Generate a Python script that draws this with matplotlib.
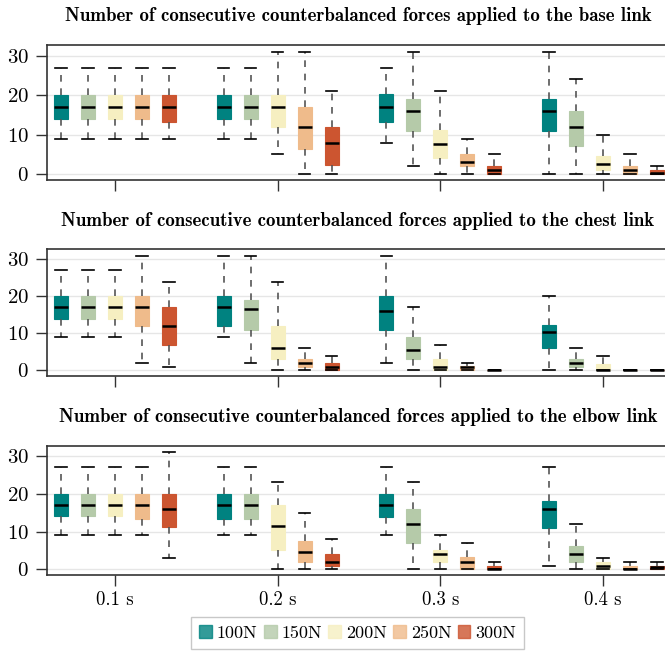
import numpy as np
import matplotlib
matplotlib.use('Agg')
import matplotlib.pyplot as plt
from matplotlib.patches import Patch

forces = ['100N', '150N', '200N', '250N', '300N']
times = ['0.1 s', '0.2 s', '0.3 s', '0.4 s']
colors = ['#008280', '#b5caa9', '#f6efc1', '#efbb8b', '#cc5530']
links = ['base', 'chest', 'elbow']

# rows = force, cols = time step
base_lo = [[9, 9, 8, 0], [9, 9, 2, 0], [9, 5, 0, 0], [9, 0, 0, 0], [9, 0, 0, 0]]
base_q1 = [[14, 14, 13.3, 11], [14, 14, 11, 7.2], [14, 12, 4, 1], [14, 6.3, 2, 0], [13.2, 2.2, 0, 0]]
base_med = [[17, 17, 17, 16], [17, 17, 16, 12], [17, 17, 7.5, 2.5], [17, 12, 3, 1], [17, 8, 1, 0.3]]
base_q3 = [[20, 20, 20.2, 19], [20, 20, 19, 16], [20, 20, 11.2, 4.7], [20, 17, 5, 2], [20, 12, 2, 1]]
base_hi = [[27, 27, 27, 31], [27, 27, 31, 24], [27, 31, 21, 10], [27, 31, 9, 5], [27, 21, 5, 2]]

chest_lo = [[9, 9, 2, 0], [9, 2, 0, 0], [9, 0, 0, 0], [2, 0, 0, 0], [1, 0, 0, 0]]
chest_q1 = [[14, 12, 11, 6], [14, 11, 3, 1], [14, 3, 0, 0], [12, 1, 0, 0], [7, 0, 0, 0]]
chest_med = [[17, 17, 16, 10.5], [17, 16.5, 5.5, 2], [17, 6, 1, 0], [17, 2, 1, 0], [12, 1, 0, 0]]
chest_q3 = [[20, 20, 20, 12.2], [20, 19, 9, 3.1], [20, 12, 3.2, 1.8], [20, 3, 1.2, 0], [17, 2, 0, 0]]
chest_hi = [[27, 31, 31, 20], [27, 31, 17, 6], [27, 24, 7, 4], [31, 6, 2, 0], [24, 4, 0, 0]]

elbow_lo = [[9, 9, 9, 1], [9, 9, 0, 0], [9, 0, 0, 0], [9, 0, 0, 0], [3, 0, 0, 0]]
elbow_q1 = [[14, 13.2, 13.9, 10.8], [14, 13.2, 6.9, 1.9], [14, 5.2, 1.9, 0], [13.2, 1.9, 0, 0], [11.2, 0.9, 0, 0]]
elbow_med = [[17, 17, 17, 16], [17, 17, 12, 4], [17, 11.4, 4, 1], [17, 4.5, 1.9, 0], [16, 2, 0.2, 0.5]]
elbow_q3 = [[20, 20, 20, 18.1], [20, 20, 16, 6.1], [20, 17, 5, 2], [20, 7.6, 3.2, 1], [19.8, 4.1, 1, 1]]
elbow_hi = [[27, 27, 27, 27], [27, 27, 23, 12], [27, 23, 9, 3], [27, 15, 7, 2], [31, 8, 2, 2]]

data = {
    'base': (base_lo, base_q1, base_med, base_q3, base_hi),
    'chest': (chest_lo, chest_q1, chest_med, chest_q3, chest_hi),
    'elbow': (elbow_lo, elbow_q1, elbow_med, elbow_q3, elbow_hi),
}

plt.rcParams['font.family'] = 'cmr10'
plt.rcParams['axes.formatter.use_mathtext'] = True

fig = plt.figure(figsize=(6.65, 6.56), dpi=100)
boxes = [(0.0707, 0.7256, 0.9293, 0.2058),
         (0.0707, 0.4268, 0.9293, 0.1932),
         (0.0707, 0.1235, 0.9293, 0.1971)]

offset = 0.166
for k, link in enumerate(links):
    ax = fig.add_axes(boxes[k])
    lo, q1, med, q3, hi = data[link]
    for f in range(5):
        stats = []
        pos = []
        for t in range(4):
            stats.append(dict(whislo=lo[f][t], q1=q1[f][t], med=med[f][t],
                              q3=q3[f][t], whishi=hi[f][t]))
            pos.append(t + (f - 2) * offset)
        ax.bxp(stats, positions=pos, widths=0.086, capwidths=0.068,
               showfliers=False, patch_artist=True,
               boxprops=dict(facecolor=colors[f], edgecolor=colors[f], linewidth=0.8),
               medianprops=dict(color='black', linewidth=1.8),
               whiskerprops=dict(color='#555555', linewidth=1.2, linestyle=(0, (4, 4))),
               capprops=dict(color='black', linewidth=1.2),
               manage_ticks=False, zorder=3)
    ax.set_xlim(-0.418, 3.381)
    ax.set_ylim(-1.5, 32.7)
    ax.set_yticks([0, 10, 20, 30])
    ax.set_xticks(range(4))
    ax.yaxis.grid(True, color='#e6e6e6', linewidth=1.0, zorder=0)
    ax.set_axisbelow(True)
    ax.spines['right'].set_visible(False)
    for s in ['left', 'top', 'bottom']:
        ax.spines[s].set_color('#333333')
        ax.spines[s].set_linewidth(1.2)
    ax.tick_params(axis='both', direction='out', length=8, width=1.0,
                   color='#333333', labelsize=13.5)
    ax.tick_params(axis='y', labelsize=15, pad=5)
    if k == 2:
        ax.set_xticklabels(times)
    else:
        ax.set_xticklabels([])
    ax.set_title('Number of consecutive counterbalanced forces applied to the %s link' % link,
                 fontsize=13.6, family='cmb10', pad=17, x=0.503)

handles = [Patch(facecolor=c, edgecolor=c, alpha=0.8) for c in colors]
fig.legend(handles, forces, loc='upper center', bbox_to_anchor=(0.538, 0.059),
           ncol=5, fontsize=13, frameon=True, fancybox=False, edgecolor='#bbbbbb',
           handlelength=0.7, handleheight=0.7, handletextpad=0.28, columnspacing=0.35,
           borderpad=0.45, borderaxespad=0)

plt.savefig('out.png', dpi=100)
